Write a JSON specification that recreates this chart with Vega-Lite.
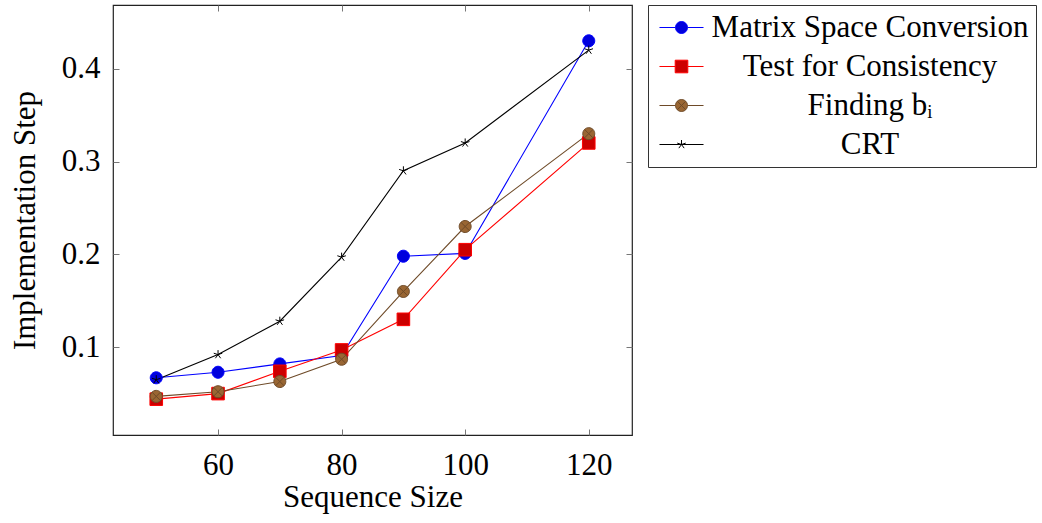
{
  "$schema": "https://vega.github.io/schema/vega-lite/v6.json",
  "width": 519,
  "height": 430,
  "autosize": "none",
  "padding": {"left": 113, "top": 5, "right": 410, "bottom": 88},
  "background": "white",
  "config": {
    "view": {"stroke": "#222", "strokeWidth": 1.2},
    "font": "Liberation Serif",
    "axis": {
      "labelFont": "Liberation Serif",
      "titleFont": "Liberation Serif",
      "labelFontSize": 31,
      "titleFontSize": 31,
      "titleFontWeight": "normal",
      "labelColor": "#000",
      "titleColor": "#000",
      "grid": false,
      "domain": false,
      "tickColor": "#777",
      "tickWidth": 1,
      "tickSize": -6
    },
    "legend": {
      "title": null, "orient": "none", "legendX": 535, "legendY": 0,
      "strokeColor": "#333", "fillColor": "white", "padding": 7, "cornerRadius": 0,
      "labelFont": "Liberation Serif", "labelFontSize": 31, "labelColor": "#000", "labelLimit": 600,
      "labelAlign": "center", "labelOffset": 173, "symbolSize": 144, "symbolOffset": 11,
      "symbolStrokeWidth": 1, "rowPadding": 7
    }
  },
  "data": {
    "values": [
      {"size": 50, "value": 0.067, "series": "Matrix Space Conversion"},
      {"size": 60, "value": 0.073, "series": "Matrix Space Conversion"},
      {"size": 70, "value": 0.082, "series": "Matrix Space Conversion"},
      {"size": 80, "value": 0.091, "series": "Matrix Space Conversion"},
      {"size": 90, "value": 0.198, "series": "Matrix Space Conversion"},
      {"size": 100, "value": 0.201, "series": "Matrix Space Conversion"},
      {"size": 120, "value": 0.43, "series": "Matrix Space Conversion"},
      {"size": 50, "value": 0.044, "series": "Test for Consistency"},
      {"size": 60, "value": 0.050, "series": "Test for Consistency"},
      {"size": 70, "value": 0.074, "series": "Test for Consistency"},
      {"size": 80, "value": 0.097, "series": "Test for Consistency"},
      {"size": 90, "value": 0.130, "series": "Test for Consistency"},
      {"size": 100, "value": 0.205, "series": "Test for Consistency"},
      {"size": 120, "value": 0.32, "series": "Test for Consistency"},
      {"size": 50, "value": 0.047, "series": "Finding bᵢ"},
      {"size": 60, "value": 0.052, "series": "Finding bᵢ"},
      {"size": 70, "value": 0.063, "series": "Finding bᵢ"},
      {"size": 80, "value": 0.087, "series": "Finding bᵢ"},
      {"size": 90, "value": 0.160, "series": "Finding bᵢ"},
      {"size": 100, "value": 0.230, "series": "Finding bᵢ"},
      {"size": 120, "value": 0.33, "series": "Finding bᵢ"},
      {"size": 50, "value": 0.065, "series": "CRT"},
      {"size": 60, "value": 0.092, "series": "CRT"},
      {"size": 70, "value": 0.128, "series": "CRT"},
      {"size": 80, "value": 0.197, "series": "CRT"},
      {"size": 90, "value": 0.290, "series": "CRT"},
      {"size": 100, "value": 0.320, "series": "CRT"},
      {"size": 120, "value": 0.42, "series": "CRT"}
    ]
  },
  "resolve": {"axis": {"x": "independent", "y": "independent"}},
  "layer": [
    {
      "mark": {"type": "line", "strokeWidth": 1.1},
      "encoding": {
        "x": {"field": "size", "type": "quantitative", "scale": {"domain": [43, 127], "nice": false, "zero": false},
              "axis": {"orient": "bottom", "values": [60, 80, 100, 120], "title": "Sequence Size", "labelPadding": 21, "titlePadding": 2}},
        "y": {"field": "value", "type": "quantitative", "scale": {"domain": [0.0054, 0.4686], "nice": false, "zero": false},
              "axis": {"orient": "left", "values": [0.1, 0.2, 0.3, 0.4], "format": ".1f", "title": "Implementation Step", "labelPadding": 19, "titlePadding": 20}},
        "stroke": {"field": "series", "type": "nominal",
                   "scale": {"domain": ["Matrix Space Conversion", "Test for Consistency", "Finding bᵢ", "CRT"],
                             "range": ["#0000ff", "#ff0000", "#6e4a28", "#000000"]},
                   "legend": {
                     "encode": {"symbols": {"update": {"shape": {"signal": "scale('shape', datum.value) + (datum.value === 'CRT' ? ' M-3.67,0L3.67,0' : ' M-3.67,0L-1,0M1,0L3.67,0')"}}}}
                   }},
        "order": {"field": "size"}
      }
    },
    {
      "mark": {"type": "point", "filled": false, "strokeWidth": 1, "opacity": 1, "size": 144},
      "encoding": {
        "x": {"field": "size", "type": "quantitative",
              "axis": {"orient": "top", "values": [60, 80, 100, 120], "labels": false, "title": null}},
        "y": {"field": "value", "type": "quantitative",
              "axis": {"orient": "right", "values": [0.1, 0.2, 0.3, 0.4], "labels": false, "title": null}},
        "stroke": {"field": "series", "type": "nominal"},
        "fill": {"field": "series", "type": "nominal",
                 "scale": {"domain": ["Matrix Space Conversion", "Test for Consistency", "Finding bᵢ", "CRT"],
                           "range": ["#0000dd", "#cc0000", "#996633", "transparent"]}},
        "shape": {"field": "series", "type": "nominal",
                  "scale": {"range": [
                              "M0,0L0,-0.75M0,0L-0.713,-0.232M0,0L-0.441,0.607M0,0L0.441,0.607M0,0L0.713,-0.232",
                              "M1,0A1,1,0,1,1,-1,0A1,1,0,1,1,1,0ZM-0.707,-0.707L0.707,0.707M-0.707,0.707L0.707,-0.707",
                              "M1,0A1,1,0,1,1,-1,0A1,1,0,1,1,1,0Z",
                              "M-1.05,-1.05H1.05V1.05H-1.05Z"
                            ]},
                  "legend": null}
      }
    }
  ]
}
